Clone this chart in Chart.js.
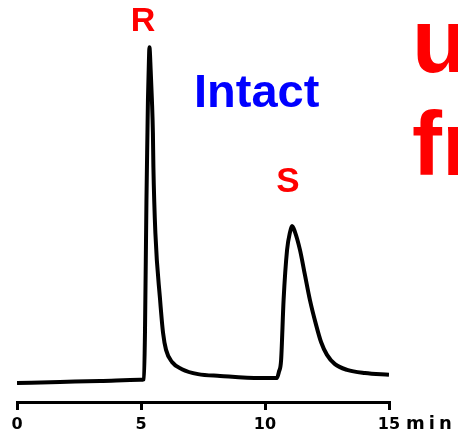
<!DOCTYPE html>
<html>
<head>
<meta charset="utf-8">
<script src="https://cdn.jsdelivr.net/npm/chart.js@4/dist/chart.umd.min.js"></script>
<style>
  html, body { margin:0; padding:0; background:#fff; }
  #wrap { width:458px; height:444px; }
</style>
</head>
<body>
<div id="wrap"><canvas id="chrom" width="458" height="444"></canvas></div>
<script>
'use strict';

// ── Data (retention time in min, detector signal in % of full scale) ──
const timeMin = [
  0, 1.73, 3.35, 4.96, 5.12, 5.16, 5.22, 5.26, 5.28, 5.32, 5.34,
  5.39, 5.44, 5.48, 5.50, 5.58, 5.77, 5.89, 6.01, 6.25, 6.65, 7.30, 8.19, 9.80,
  10.48, 10.56, 10.65, 10.75, 10.89, 11.01, 11.09, 11.21, 11.41, 11.61, 11.81,
  12.06, 12.26, 12.50, 12.82, 13.31, 14.03, 15.0
];
const signal = [
  5.3, 5.6, 5.9, 6.2, 6.4, 19.3, 56.6, 75.4, 84.6, 95.8, 99.4,
  93.0, 84.6, 75.4, 65.8, 47.3, 28.6, 19.3, 14.6, 11.2, 9.2, 7.8, 7.3, 6.7,
  6.7, 8.4, 11.8, 28.6, 42.6, 47.6, 49.3, 47.6, 42.6, 35.6, 28.6,
  21.6, 16.8, 13.2, 10.6, 9.0, 8.1, 7.6
];
const tickValues = [0, 5, 10, 15];
const peakLabels = ['R', 'S'];
const sampleLabel = 'Intact';
const sideText = ['u', 'fr'];
const timeUnit = 'min';

// ── Text overlay ──────────────────────────────────────────────────
const textPlugin = {
  id: 'textOverlay',
  afterDraw(chart) {
    const ctx = chart.ctx;
    const x = chart.scales.x;
    ctx.save();
    ctx.textBaseline = 'alphabetic';

    ctx.fillStyle = '#ff0000';
    ctx.textAlign = 'center';
    ctx.font = 'bold 34px "Liberation Sans", Arial, sans-serif';
    ctx.fillText(peakLabels[0], 143, 31);
    ctx.font = 'bold 35px "Liberation Sans", Arial, sans-serif';
    ctx.fillText(peakLabels[1], 288, 192);

    ctx.fillStyle = '#0000ff';
    ctx.textAlign = 'left';
    ctx.font = 'bold 47px "Liberation Sans", Arial, sans-serif';
    ctx.fillText(sampleLabel, 194, 107);

    ctx.fillStyle = '#ff0000';
    ctx.font = 'bold 90px "Liberation Sans", Arial, sans-serif';
    ctx.fillText(sideText[0], 412, 72);
    ctx.fillText(sideText[1], 412, 175);

    // unit after the last tick label
    ctx.fillStyle = '#000';
    ctx.font = 'bold 18px "DejaVu Sans", sans-serif';
    ctx.letterSpacing = '4px';
    ctx.fillText(timeUnit, x.getPixelForValue(15) + 17, 429);
    ctx.restore();
  }
};

new Chart(document.getElementById('chrom').getContext('2d'), {
  type: 'line',
  data: {
    datasets: [{
      data: timeMin.map((t, i) => ({ x: t, y: signal[i] })),
      borderColor: '#000',
      borderWidth: 4,
      pointRadius: 0,
      cubicInterpolationMode: 'monotone',
      fill: false
    }]
  },
  options: {
    responsive: false,
    animation: false,
    layout: { padding: { left: 17, right: 69, top: 45, bottom: 0 } },
    scales: {
      x: {
        type: 'linear', min: 0, max: 15,
        afterBuildTicks: s => { s.ticks = tickValues.map(v => ({ value: v })); },
        afterFit: s => { s.height = 42; },
        grid: { drawOnChartArea: false, drawTicks: true, tickLength: 8, color: '#000', lineWidth: 3 },
        border: { display: true, color: '#000', width: 3 },
        ticks: {
          color: '#000', padding: 5, maxRotation: 0, autoSkip: false,
          font: { size: 16, weight: 'bold', family: '"DejaVu Sans", sans-serif' }
        }
      },
      y: { display: false, min: 0, max: 100 }
    },
    plugins: { legend: { display: false }, tooltip: { enabled: false } }
  },
  plugins: [textPlugin]
});
</script>
</body>
</html>
